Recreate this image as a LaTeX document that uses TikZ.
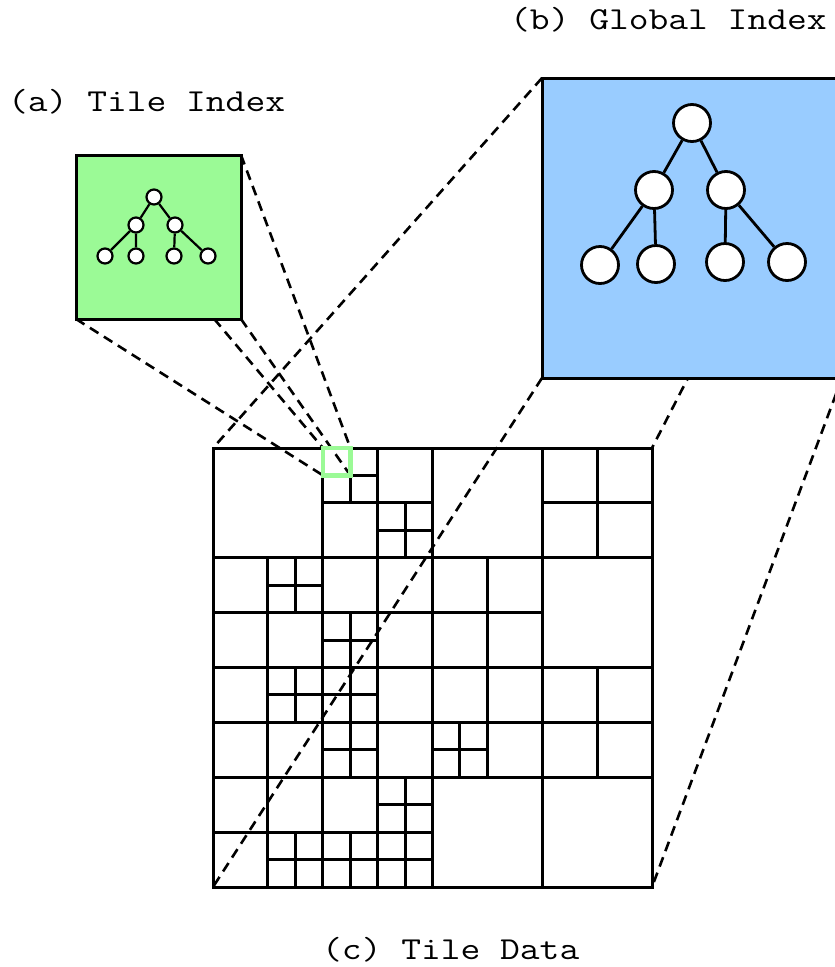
\documentclass[tikz,border=0pt]{standalone}
\usepackage{fontspec}
\newfontfamily\captionfont{Latin Modern Mono}[FakeStretch=1.2]
\usetikzlibrary{backgrounds}
\definecolor{tilegreen}{RGB}{155,250,150}
\definecolor{globalblue}{RGB}{153,204,255}
\begin{document}
\begin{tikzpicture}[x=1pt,y=-1pt,
  panel/.style={draw=black, line width=3pt, outer sep=0pt, inner sep=0pt},
  smallnode/.style={circle, draw=black, fill=white, line width=2.2pt, minimum size=15pt, inner sep=0pt},
  bignode/.style={circle, draw=black, fill=white, line width=2.8pt, minimum size=37pt, inner sep=0pt},
  smalledge/.style={line width=2.2pt},
  bigedge/.style={line width=2.8pt},
  gridline/.style={line width=3pt, line cap=rect},
  zoomline/.style={line width=2.6pt, dash pattern=on 10pt off 6.5pt},
  caption/.style={font=\captionfont\fontsize{32}{36}\selectfont, inner sep=0pt}]

\useasboundingbox (0,0) rectangle (835,967);
\clip (0,0) rectangle (835,967);

% captions
\node[caption, anchor=west] (capa) at (8,102) {(a) Tile Index};
\node[caption, anchor=west] (capb) at (510,20) {(b) Global Index};
\node[caption, anchor=west] (capc) at (322,950) {(c) Tile Data};

% tile data: 8x8 quadtree grid
\node[panel, minimum size=439pt] (grid) at (432.5,667.5) {};
\begin{scope}[shift={(213,448)}, x=54.875pt, y=-54.875pt]
  \draw[gridline] (1,2)--(1,8) (2,0)--(2,8) (3,0)--(3,8) (4,0)--(4,8)
                  (5,2)--(5,6) (6,0)--(6,8) (7,0)--(7,2) (7,4)--(7,6);
  \draw[gridline] (0,2)--(8,2) (0,4)--(8,4) (0,6)--(8,6)
                  (2,1)--(4,1) (6,1)--(8,1) (0,3)--(6,3) (0,5)--(8,5) (0,7)--(4,7);
  \foreach \c/\r in {2/0,3/1,1/2,2/3,1/4,2/4,2/5,4/5,3/6,1/7,2/7,3/7}
    \draw[gridline] (\c+0.5,\r)--(\c+0.5,\r+1) (\c,\r+0.5)--(\c+1,\r+0.5);
\end{scope}

% highlighted tile
\node[draw=tilegreen, line width=4.5pt, minimum size=27.4pt, inner sep=0pt, outer sep=0pt] (hl) at (336.7,461.7) {};

% tile index panel
\node[panel, fill=tilegreen, minimum width=165pt, minimum height=164pt] (ti) at (158.5,237) {};
\node[smallnode] (a0) at (154,197) {};
\node[smallnode] (a1) at (136,225) {};
\node[smallnode] (a2) at (175,225) {};
\node[smallnode] (a3) at (105,256) {};
\node[smallnode] (a4) at (136,256) {};
\node[smallnode] (a5) at (174,256) {};
\node[smallnode] (a6) at (208,256) {};
\draw[smalledge] (a0)--(a1) (a0)--(a2) (a1)--(a3) (a1)--(a4) (a2)--(a5) (a2)--(a6);

% global index panel
\node[panel, fill=globalblue, minimum width=300pt, minimum height=300pt] (gi) at (692,228) {};
\node[bignode] (b0) at (692,123) {};
\node[bignode] (b1) at (654,190) {};
\node[bignode] (b2) at (726,190) {};
\node[bignode] (b3) at (600,265) {};
\node[bignode] (b4) at (656,264) {};
\node[bignode] (b5) at (725,262) {};
\node[bignode] (b6) at (787,262) {};
\draw[bigedge] (b0)--(b1) (b0)--(b2) (b1)--(b3) (b1)--(b4) (b2)--(b5) (b2)--(b6);

% zoom connectors
\begin{scope}[on background layer]
  \draw[zoomline] (ti.north west)--(hl.north west);
  \draw[zoomline] (ti.north east)--(hl.north east);
  \draw[zoomline] (ti.south west)--(hl.south west);
  \draw[zoomline] (ti.south east)--(hl.south east);
  \draw[zoomline] (gi.north west)--(grid.north west);
  \draw[zoomline] (gi.north east)--(grid.north east);
  \draw[zoomline] (gi.south west)--(grid.south west);
  \draw[zoomline] (gi.south east)--(grid.south east);
\end{scope}
\end{tikzpicture}
\end{document}
